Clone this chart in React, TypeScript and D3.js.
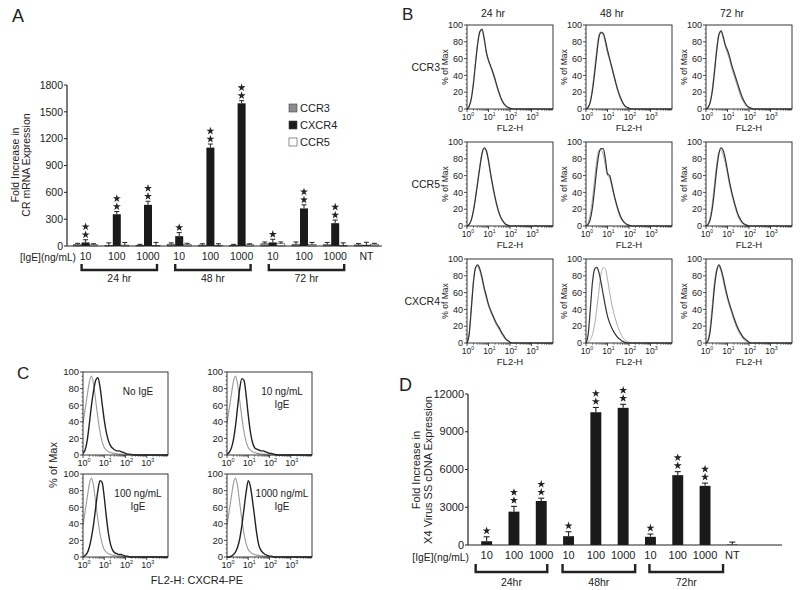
import React from "react";
import * as d3 from "d3";

const FONT = "'Liberation Sans', Arial, Helvetica, sans-serif";
const INK = "#222";

// ---------- Panel A data ----------
const doseLabels = ["10", "100", "1000", "10", "100", "1000", "10", "100", "1000", "NT"];
const groupLabelsA = ["24 hr", "48 hr", "72 hr"];
const seriesNames = ["CCR3", "CXCR4", "CCR5"];
const ccr3Values = [15, 5, 8, 20, 10, 8, 25, 20, 15, 12];
const ccr3Errors = [15, 30, 10, 15, 15, 10, 20, 25, 25, 15];
const cxcr4Values = [40, 355, 460, 110, 1100, 1595, 40, 420, 255, 12];
const cxcr4Errors = [30, 30, 40, 40, 40, 30, 35, 40, 35, 30];
const ccr5Values = [15, 10, 5, 15, 5, 15, 25, 15, 5, 20];
const ccr5Errors = [10, 30, 35, 15, 20, 10, 20, 25, 30, 10];
const starsA = [2, 2, 2, 1, 2, 2, 1, 2, 2, 0];
const ticksA = [0, 300, 600, 900, 1200, 1500, 1800];

// ---------- Panel D data ----------
const groupLabelsD = ["24hr", "48hr", "72hr"];
const x4Values = [300, 2650, 3500, 700, 10550, 10900, 650, 5550, 4700, 30];
const x4Errors = [350, 420, 220, 350, 380, 280, 220, 280, 220, 200];
const starsD = [1, 2, 2, 1, 2, 2, 1, 2, 2, 0];
const ticksD = [0, 3000, 6000, 9000, 12000];

// ---------- Histogram data (log10 of FL2-H, % of max) ----------
const histLogX = [0, 0.1, 0.2, 0.3, 0.4, 0.5, 0.6, 0.7, 0.8, 0.9, 1.0, 1.1, 1.2, 1.3, 1.4, 1.5, 1.6, 1.7, 1.8, 1.9, 2.0, 2.1, 2.2, 2.4, 2.7, 3.0, 3.5, 4.0];
const bRowLabels = ["CCR3", "CCR5", "CXCR4"];
const bColLabels = ["24 hr", "48 hr", "72 hr"];
// CCR3
const b11Dark = [0, 3, 12, 30, 55, 78, 92, 95, 84, 68, 58, 51, 44, 36, 27, 19, 12, 7, 4, 2, 1, 0, 0, 0, 0, 0, 0, 0];
const b11Light = [0, 4, 14, 33, 58, 80, 93, 93, 82, 66, 57, 50, 42, 34, 25, 17, 11, 6, 3, 2, 1, 0, 0, 0, 0, 0, 0, 0];
const b12Dark = [0, 2, 8, 22, 42, 65, 85, 91, 90, 82, 70, 60, 50, 40, 30, 21, 14, 8, 4, 2, 1, 0, 0, 0, 0, 0, 0, 0];
const b12Light = [0, 3, 10, 26, 48, 70, 88, 92, 88, 78, 66, 58, 48, 38, 28, 19, 12, 7, 3, 1, 0, 0, 0, 0, 0, 0, 0, 0];
const b13Dark = [0, 2, 8, 22, 45, 70, 88, 93, 86, 76, 70, 62, 52, 44, 36, 28, 20, 13, 8, 4, 2, 1, 0, 0, 0, 0, 0, 0];
const b13Light = [0, 3, 10, 26, 50, 74, 90, 92, 84, 74, 66, 58, 48, 40, 32, 24, 16, 10, 6, 3, 1, 0, 0, 0, 0, 0, 0, 0];
// CCR5
const b21Dark = [0, 2, 7, 18, 34, 52, 70, 86, 93, 90, 78, 62, 48, 35, 24, 15, 9, 5, 2, 1, 0, 0, 0, 0, 0, 0, 0, 0];
const b21Light = [0, 2, 8, 20, 36, 55, 73, 88, 92, 88, 76, 60, 46, 33, 22, 14, 8, 4, 2, 1, 0, 0, 0, 0, 0, 0, 0, 0];
const b22Dark = [0, 2, 8, 22, 44, 68, 86, 92, 92, 80, 62, 60, 50, 38, 28, 19, 12, 7, 4, 2, 1, 0, 0, 0, 0, 0, 0, 0];
const b22Light = [0, 4, 14, 32, 56, 78, 90, 90, 85, 72, 60, 57, 47, 36, 26, 17, 10, 6, 3, 1, 0, 0, 0, 0, 0, 0, 0, 0];
const b23Dark = [0, 2, 8, 22, 44, 68, 86, 93, 90, 80, 66, 52, 40, 30, 21, 13, 8, 4, 2, 1, 0, 0, 0, 0, 0, 0, 0, 0];
const b23Light = [0, 3, 12, 28, 52, 74, 88, 90, 84, 74, 62, 48, 37, 27, 18, 11, 6, 3, 1, 0, 0, 0, 0, 0, 0, 0, 0, 0];
// CXCR4
const b31Dark = [0, 10, 40, 72, 90, 93, 88, 78, 66, 56, 46, 39, 33, 27, 22, 18, 13, 9, 5, 3, 1, 0, 0, 0, 0, 0, 0, 0];
const b31Light = [0, 12, 44, 75, 90, 91, 85, 75, 63, 53, 44, 37, 31, 25, 20, 16, 11, 7, 4, 2, 1, 0, 0, 0, 0, 0, 0, 0];
const b32Dark = [0, 10, 40, 72, 88, 90, 84, 72, 58, 44, 32, 24, 18, 13, 9, 6, 4, 2, 1, 0, 0, 0, 0, 0, 0, 0, 0, 0];
const b32Light = [0, 1, 4, 10, 22, 40, 62, 82, 90, 88, 76, 60, 46, 35, 26, 18, 12, 7, 4, 2, 1, 0, 0, 0, 0, 0, 0, 0];
const b33Dark = [0, 3, 15, 40, 68, 86, 93, 88, 78, 66, 55, 46, 38, 30, 23, 17, 12, 8, 5, 3, 1, 0, 0, 0, 0, 0, 0, 0];
const b33Light = [0, 5, 20, 48, 74, 88, 91, 85, 74, 62, 52, 43, 35, 27, 20, 14, 10, 6, 3, 2, 0, 0, 0, 0, 0, 0, 0, 0];

// Panel C
const cLabels = [["No IgE"], ["10 ng/mL", "IgE"], ["100 ng/mL", "IgE"], ["1000 ng/mL", "IgE"]];
const cIsotype = [38, 55, 72, 88, 95, 85, 65, 45, 28, 16, 9, 6, 4, 3, 2, 2, 1, 1, 1, 0, 0, 0, 0, 0, 0, 0, 0, 0];
const cNoIgE = [2, 6, 18, 38, 60, 78, 90, 93, 82, 62, 42, 27, 17, 11, 8, 6, 5, 5, 4, 3, 2, 1, 1, 0, 0, 0, 0, 0];
const c10 = [1, 3, 8, 18, 35, 58, 80, 92, 90, 72, 48, 28, 15, 9, 7, 6, 5, 5, 4, 3, 2, 2, 1, 0, 0, 0, 0, 0];
const c100 = [0, 2, 5, 12, 24, 40, 60, 80, 92, 90, 72, 48, 28, 15, 8, 5, 4, 3, 3, 2, 1, 1, 0, 0, 0, 0, 0, 0];
const c1000 = [0, 0, 1, 3, 6, 12, 22, 38, 58, 78, 92, 85, 68, 48, 28, 14, 8, 5, 3, 2, 1, 1, 0, 0, 0, 0, 0, 0];

const histTicksY = [0, 20, 40, 60, 80, 100];
const histDecades = [1, 10, 100, 1000];

type Curve = { values: number[]; color: string; width: number };

function Star({ cx, cy }: { cx: number; cy: number }) {
  const p = d3.symbol().type(d3.symbolStar).size(20)();
  return <path d={p || ""} transform={`translate(${cx},${cy})`} fill={INK} />;
}

function Hist({ x0, y0, w, h, curves, yFont, xFont, xTitle }: { x0: number; y0: number; w: number; h: number; curves: Curve[]; yFont: number; xFont: number; xTitle?: string }) {
  const xs = d3.scaleLog().domain([1, 1e4]).range([x0, x0 + w]);
  const ys = d3.scaleLinear().domain([0, 100]).range([y0 + h, y0]);
  const line = d3
    .line<[number, number]>()
    .x((d) => xs(Math.pow(10, d[0])))
    .y((d) => ys(d[1]))
    .curve(d3.curveMonotoneX);
  const minorX = xs.ticks().filter((t) => !histDecades.includes(t) && t < 1e4);
  const minorY = d3.range(0, 101, 5).filter((t) => t % 20 !== 0);
  return (
    <g>
      {curves.map((c, i) => (
        <path key={i} d={line(histLogX.map((lx, k) => [lx, c.values[k]] as [number, number])) || ""} fill="none" stroke={c.color} strokeWidth={c.width} />
      ))}
      <rect x={x0} y={y0} width={w} height={h} fill="none" stroke={INK} strokeWidth={0.9} />
      {histTicksY.map((t) => (
        <g key={t}>
          <line x1={x0 - 3} x2={x0} y1={ys(t)} y2={ys(t)} stroke={INK} strokeWidth={0.8} />
          <text x={x0 - 4} y={ys(t) + yFont * 0.35} fontSize={yFont} textAnchor="end" fill={INK}>{t}</text>
        </g>
      ))}
      {minorY.map((t) => (
        <line key={"my" + t} x1={x0 - 1.5} x2={x0} y1={ys(t)} y2={ys(t)} stroke={INK} strokeWidth={0.6} />
      ))}
      {minorX.map((t, i) => (
        <line key={"mx" + i} x1={xs(t)} x2={xs(t)} y1={y0 + h} y2={y0 + h + 1.8} stroke={INK} strokeWidth={0.6} />
      ))}
      {histDecades.map((t, i) => (
        <g key={"dx" + t}>
          <line x1={xs(t)} x2={xs(t)} y1={y0 + h} y2={y0 + h + 3} stroke={INK} strokeWidth={0.8} />
          <text x={xs(t) + 1} y={y0 + h + xFont + 2} fontSize={xFont} textAnchor="middle" fill={INK}>
            10<tspan fontSize={xFont * 0.6} dy={-xFont * 0.4}>{i}</tspan>
          </text>
        </g>
      ))}
      {xTitle && (
        <text x={x0 + w / 2} y={y0 + h + 22} fontSize={9.5} textAnchor="middle" fill={INK}>{xTitle}</text>
      )}
    </g>
  );
}

function PanelA() {
  const x = d3.scaleBand<number>().domain(d3.range(doseLabels.length)).range([70, 382]).padding(0);
  const y = d3.scaleLinear().domain([0, 1800]).range([246, 85]);
  const sub = d3.scaleBand<string>().domain(seriesNames).range([-12, 12]);
  const bw = sub.bandwidth();
  const vals = [ccr3Values, cxcr4Values, ccr5Values];
  const errs = [ccr3Errors, cxcr4Errors, ccr5Errors];
  const fills = ["#8c8c8c", "#1a1a1a", "#ffffff"];
  const axisY = 246;
  const groups = [[0, 2], [3, 5], [6, 8]];
  return (
    <g>
      <text x={12} y={22} fontSize={18} fill={INK}>A</text>
      {doseLabels.map((_, i) => {
        const cx = (x(i) as number) + x.bandwidth() / 2;
        const topErr = cxcr4Values[i] + cxcr4Errors[i];
        return (
          <g key={i}>
            {seriesNames.map((s, k) => {
              const bx = cx + (sub(s) as number);
              const v = vals[k][i];
              const e = errs[k][i];
              return (
                <g key={s}>
                  <rect x={bx} y={y(v)} width={bw} height={axisY - y(v)} fill={fills[k]} stroke={k === 1 ? "none" : "#444"} strokeWidth={0.6} />
                  <line x1={bx + bw / 2} x2={bx + bw / 2} y1={y(v)} y2={y(v + e)} stroke={INK} strokeWidth={1} />
                  <line x1={bx + bw / 2 - 2.5} x2={bx + bw / 2 + 2.5} y1={y(v + e)} y2={y(v + e)} stroke={INK} strokeWidth={1} />
                </g>
              );
            })}
            {d3.range(starsA[i]).map((j) => (
              <Star key={j} cx={cx} cy={y(topErr) - 5 - j * 8} />
            ))}
            <text x={cx} y={260} fontSize={10.5} textAnchor="middle" fill={INK}>{doseLabels[i]}</text>
          </g>
        );
      })}
      <line x1={67} x2={382} y1={axisY} y2={axisY} stroke={INK} strokeWidth={1.2} />
      <line x1={67} x2={67} y1={85} y2={axisY} stroke={INK} strokeWidth={1.2} />
      {ticksA.map((t) => (
        <g key={t}>
          <line x1={64} x2={67} y1={y(t)} y2={y(t)} stroke={INK} strokeWidth={1} />
          <text x={63} y={y(t) + 3.7} fontSize={10.5} textAnchor="end" fill={INK}>{t}</text>
        </g>
      ))}
      <text x={76} y={261} fontSize={10.2} textAnchor="end" fill={INK}>[IgE](ng/mL)</text>
      <g transform={`translate(19,165) rotate(-90)`}>
        <text x={0} y={0} fontSize={10.5} textAnchor="middle" fill={INK}>Fold Increase in</text>
        <text x={0} y={10.5} fontSize={10.5} textAnchor="middle" fill={INK}>CR mRNA Expression</text>
      </g>
      {groups.map(([a, b], gi) => {
        const x1 = (x(a) as number) + x.bandwidth() / 2 - 4;
        const x2 = (x(b) as number) + x.bandwidth() / 2 + 9;
        return (
          <g key={gi}>
            <path d={`M${x1},264 V270 H${x2} V264`} fill="none" stroke={INK} strokeWidth={2.4} />
            <text x={(x1 + x2) / 2} y={282} fontSize={10.5} textAnchor="middle" fill={INK}>{groupLabelsA[gi]}</text>
          </g>
        );
      })}
      {seriesNames.map((s, k) => (
        <g key={s}>
          <rect x={289} y={104 + k * 17} width={8} height={8} fill={fills[k]} stroke="#444" strokeWidth={0.6} />
          <text x={300} y={112 + k * 17} fontSize={11} fill={INK}>{s}</text>
        </g>
      ))}
    </g>
  );
}

function PanelB() {
  const cols = [467, 586, 706];
  const rows = [25, 142, 259];
  const curves: Curve[][][] = [
    [[{ values: b11Light, color: "#aaa", width: 1 }, { values: b11Dark, color: "#333", width: 1.2 }],
     [{ values: b12Light, color: "#aaa", width: 1 }, { values: b12Dark, color: "#333", width: 1.2 }],
     [{ values: b13Light, color: "#aaa", width: 1 }, { values: b13Dark, color: "#333", width: 1.2 }]],
    [[{ values: b21Light, color: "#aaa", width: 1 }, { values: b21Dark, color: "#333", width: 1.2 }],
     [{ values: b22Light, color: "#aaa", width: 1 }, { values: b22Dark, color: "#333", width: 1.2 }],
     [{ values: b23Light, color: "#aaa", width: 1 }, { values: b23Dark, color: "#333", width: 1.2 }]],
    [[{ values: b31Light, color: "#aaa", width: 1 }, { values: b31Dark, color: "#333", width: 1.2 }],
     [{ values: b32Light, color: "#aaa", width: 1 }, { values: b32Dark, color: "#333", width: 1.2 }],
     [{ values: b33Light, color: "#aaa", width: 1 }, { values: b33Dark, color: "#333", width: 1.2 }]],
  ];
  return (
    <g>
      <text x={402} y={20} fontSize={17} fill={INK}>B</text>
      {bColLabels.map((c, i) => (
        <text key={c} x={cols[i] + 26} y={17} fontSize={10.5} textAnchor="middle" fill={INK}>{c}</text>
      ))}
      {bRowLabels.map((r, i) => (
        <text key={r} x={440} y={rows[i] + 46} fontSize={10.5} textAnchor="end" fill={INK}>{r}</text>
      ))}
      {rows.map((ry, ri) =>
        cols.map((cx, ci) => (
          <g key={ri + "-" + ci}>
            <Hist x0={cx} y0={ry} w={86} h={84} curves={curves[ri][ci]} yFont={9} xFont={8.5} xTitle="FL2-H" />
            <text transform={`translate(${cx - 19},${ry + 42}) rotate(-90)`} fontSize={8.5} textAnchor="middle" fill={INK}>% of Max</text>
          </g>
        ))
      )}
    </g>
  );
}

function PanelC() {
  const pos = [[83, 372], [227, 372], [83, 474], [227, 474]];
  const dark = [cNoIgE, c10, c100, c1000];
  return (
    <g>
      <text x={17} y={379} fontSize={17} fill={INK}>C</text>
      {pos.map(([px, py], i) => (
        <g key={i}>
          <Hist x0={px} y0={py} w={85} h={83} yFont={9.5} xFont={9}
            curves={[{ values: cIsotype, color: "#999", width: 1.1 }, { values: dark[i], color: "#222", width: 1.4 }]} />
          {cLabels[i].map((l, k) => (
            <text key={k} x={px + 55} y={py + 23 + k * 13} fontSize={10} textAnchor="middle" fill={INK}>{l}</text>
          ))}
        </g>
      ))}
      <text transform="translate(57,465) rotate(-90)" fontSize={11} textAnchor="middle" fill={INK}>% of Max</text>
      <text x={197} y={584} fontSize={11} textAnchor="middle" fill={INK}>FL2-H: CXCR4-PE</text>
    </g>
  );
}

function PanelD() {
  const x = d3.scaleBand<number>().domain(d3.range(doseLabels.length)).range([473, 746]).paddingInner(0.6).paddingOuter(0.3);
  const y = d3.scaleLinear().domain([0, 12000]).range([545, 394]);
  const groups = [[0, 2], [3, 5], [6, 8]];
  const bw = x.bandwidth();
  return (
    <g>
      <text x={399} y={391} fontSize={18} fill={INK}>D</text>
      {doseLabels.map((d, i) => {
        const bx = x(i) as number;
        const cx = bx + bw / 2;
        const v = x4Values[i];
        const e = x4Errors[i];
        return (
          <g key={i}>
            <rect x={bx} y={y(v)} width={bw} height={545 - y(v)} fill="#1a1a1a" />
            <line x1={cx} x2={cx} y1={y(v)} y2={y(v + e)} stroke={INK} strokeWidth={1.1} />
            <line x1={cx - 3} x2={cx + 3} y1={y(v + e)} y2={y(v + e)} stroke={INK} strokeWidth={1.1} />
            {d3.range(starsD[i]).map((j) => (
              <Star key={j} cx={cx} cy={y(v + e) - 6 - j * 8} />
            ))}
            <text x={cx} y={559} fontSize={11} textAnchor="middle" fill={INK}>{d}</text>
          </g>
        );
      })}
      <line x1={468} x2={782} y1={545} y2={545} stroke={INK} strokeWidth={1.2} />
      <line x1={468} x2={468} y1={394} y2={545} stroke={INK} strokeWidth={1.2} />
      {ticksD.map((t) => (
        <g key={t}>
          <line x1={465} x2={468} y1={y(t)} y2={y(t)} stroke={INK} strokeWidth={1} />
          <text x={464} y={y(t) + 3.5} fontSize={11} textAnchor="end" fill={INK}>{t}</text>
        </g>
      ))}
      <text x={469} y={561} fontSize={10.3} textAnchor="end" fill={INK}>[IgE](ng/mL)</text>
      <g transform="translate(420,470) rotate(-90)">
        <text x={0} y={0} fontSize={11} textAnchor="middle" fill={INK}>Fold Increase in</text>
        <text x={0} y={11.5} fontSize={11} textAnchor="middle" fill={INK}>X4 Virus SS cDNA Expression</text>
      </g>
      {groups.map(([a, b], gi) => {
        const ca = (x(a) as number) + bw / 2;
        const cb = (x(b) as number) + bw / 2;
        const x1 = ca - 11 + gi * 5;
        const x2 = cb + 6 + gi * 6;
        return (
          <g key={gi}>
            <path d={`M${x1},564 V572 H${x2} V564`} fill="none" stroke={INK} strokeWidth={2.4} />
            <text x={(x1 + x2) / 2} y={586} fontSize={10.5} textAnchor="middle" fill={INK}>{groupLabelsD[gi]}</text>
          </g>
        );
      })}
    </g>
  );
}

export default function App() {
  return (
    <svg width={800} height={590} viewBox="0 0 800 590" style={{ position: "absolute", left: 0, top: 0, background: "#fff", fontFamily: FONT }}>
      <rect width={800} height={590} fill="#fff" />
      <PanelA />
      <PanelB />
      <PanelC />
      <PanelD />
    </svg>
  );
}
